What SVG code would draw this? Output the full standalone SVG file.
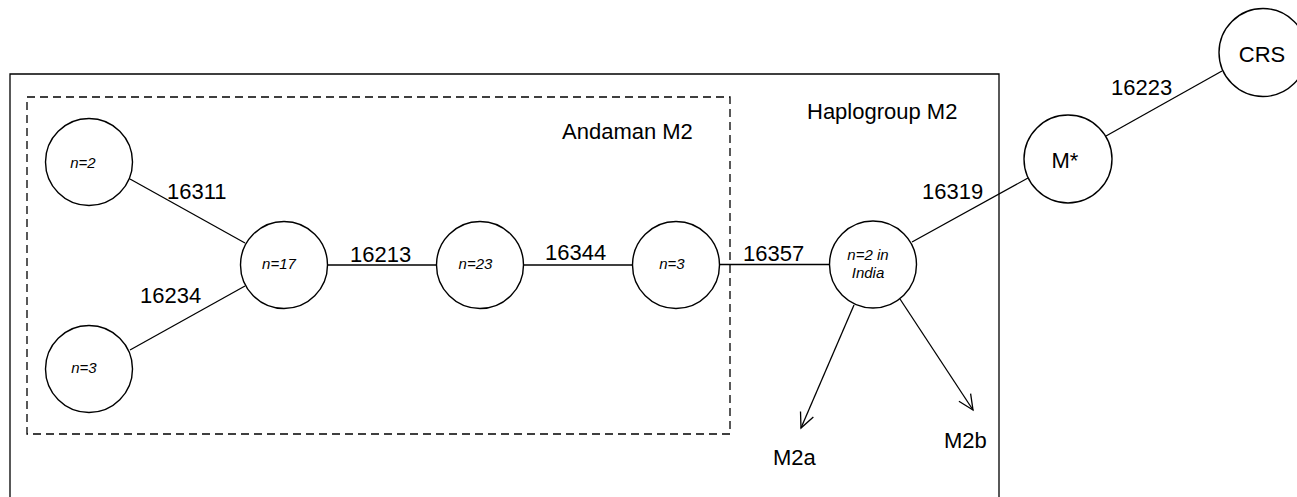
<svg xmlns="http://www.w3.org/2000/svg" width="1297" height="497" viewBox="0 0 1297 497">
<style>
.n{fill:#fff;stroke:#000;stroke-width:1.4}
.l{stroke:#000;stroke-width:1.3;fill:none}
.t{font-family:"Liberation Sans",Arial,sans-serif;font-size:22px;fill:#000}
.i{font-family:"Liberation Sans",Arial,sans-serif;font-size:15px;font-style:italic;fill:#000;text-anchor:middle}
.c{font-family:"Liberation Sans",Arial,sans-serif;font-size:22px;fill:#000;text-anchor:middle}
</style>
<defs>
<marker id="arr" markerWidth="20" markerHeight="20" refX="16" refY="8" orient="auto" markerUnits="userSpaceOnUse">
<path d="M1,1 L16,8 L1,15" fill="none" stroke="#000" stroke-width="1.3"/>
</marker>
</defs>
<g id="frames">
<path d="M10,500 L10,74 L999,74 L999,500" class="l"/>
<rect x="27" y="97" width="703" height="337" class="l" stroke-dasharray="8,5"/>
<text class="t" x="807" y="119">Haplogroup M2</text>
<text class="t" x="562" y="139">Andaman M2</text>
</g>
<g id="connectors">
<line class="l" x1="130" y1="179" x2="245" y2="243"/>
<line class="l" x1="130" y1="350" x2="245" y2="286"/>
<line class="l" x1="328" y1="265" x2="437" y2="265"/>
<line class="l" x1="524" y1="265" x2="632" y2="265"/>
<line class="l" x1="720" y1="264.5" x2="829" y2="264.5"/>
<line class="l" x1="912" y1="242" x2="1028" y2="178"/>
<line class="l" x1="1106" y1="136" x2="1222" y2="71"/>
<line class="l" x1="854" y1="305" x2="801" y2="428" marker-end="url(#arr)"/>
<line class="l" x1="900" y1="299" x2="973" y2="410" marker-end="url(#arr)"/>
<text class="t" x="167" y="199">16311</text>
<text class="t" x="140" y="303">16234</text>
<text class="t" x="350" y="262">16213</text>
<text class="t" x="545" y="260">16344</text>
<text class="t" x="743" y="261">16357</text>
<text class="t" x="922" y="199">16319</text>
<text class="t" x="1111" y="95">16223</text>
<text class="t" x="773" y="465">M2a</text>
<text class="t" x="944" y="448">M2b</text>
</g>
<g id="node-n2"><circle class="n" cx="89" cy="162" r="43.5"/><text class="i" x="83" y="168">n=2</text></g>
<g id="node-n3a"><circle class="n" cx="89" cy="369" r="43.5"/><text class="i" x="84" y="373">n=3</text></g>
<g id="node-n17"><circle class="n" cx="284" cy="265" r="43.5"/><text class="i" x="279" y="269">n=17</text></g>
<g id="node-n23"><circle class="n" cx="480" cy="265" r="43.5"/><text class="i" x="475.5" y="269">n=23</text></g>
<g id="node-n3b"><circle class="n" cx="676" cy="265" r="43.5"/><text class="i" x="672" y="269">n=3</text></g>
<g id="node-india"><circle class="n" cx="873" cy="264.5" r="43.5"/><text class="i" x="868" y="260">n=2 in</text><text class="i" x="868" y="278">India</text></g>
<g id="node-mstar"><circle class="n" cx="1068" cy="159" r="44"/><text class="c" x="1065" y="168">M*</text></g>
<g id="node-crs"><circle class="n" cx="1263" cy="52.5" r="44"/><text class="c" x="1262" y="62">CRS</text></g>
</svg>
